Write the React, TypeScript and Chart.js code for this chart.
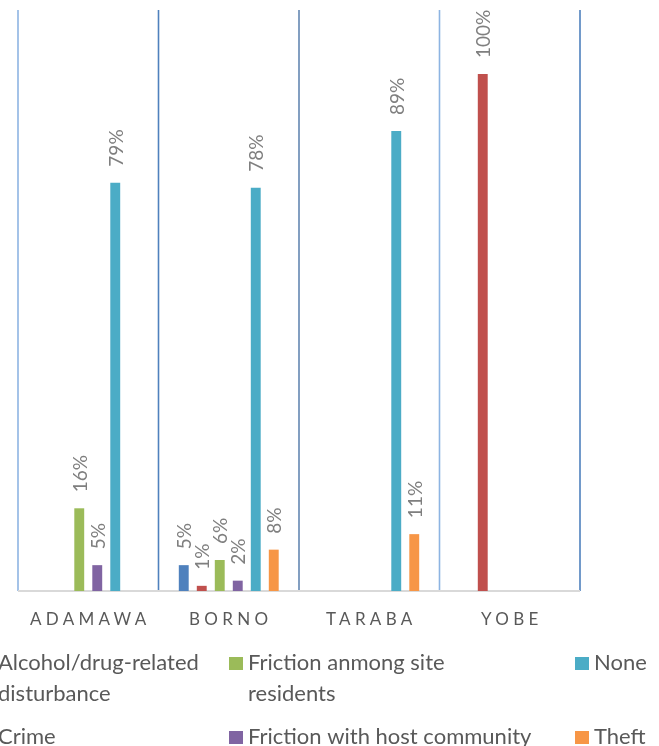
import React, { useEffect, useRef } from "react";
import { Chart, registerables } from "chart.js";

Chart.register(...registerables);

const categories = ["ADAMAWA", "BORNO", "TARABA", "YOBE"];
const seriesNames = [
  "Alcohol/drug-related disturbance",
  "Crime",
  "Friction anmong site residents",
  "Friction with host community",
  "None",
  "Theft",
];
const alcohol = [0, 5, 0, 0];
const crime = [0, 1, 0, 100];
const frictionResidents = [16, 6, 0, 0];
const frictionHost = [5, 2, 0, 0];
const none = [79, 78, 89, 0];
const theft = [0, 8, 11, 0];
const seriesColors = ["#4F81BD", "#C0504D", "#9BBB59", "#8064A2", "#4BACC6", "#F79646"];

const legendLines: string[][] = [
  ["Alcohol/drug-related", "disturbance"],
  ["Crime"],
  ["Friction anmong site", "residents"],
  ["Friction with host community"],
  ["None"],
  ["Theft"],
];

const gridColors = ["#8EB4E3", "#4F81BD", "#2F5F98", "#8DB4E2", "#4F81BD"];

const customPlugin = {
  id: "custom",
  beforeDatasetsDraw(chart: any) {
    const ctx = chart.ctx;
    const area = chart.chartArea;
    const xs = chart.scales.x;
    const n = categories.length;
    const step = (area.right - area.left) / n;
    ctx.save();
    for (let i = 0; i <= n; i++) {
      const x = i < n ? xs.getPixelForValue(i) - step / 2 : xs.getPixelForValue(n - 1) + step / 2;
      ctx.strokeStyle = gridColors[i];
      ctx.lineWidth = i === 2 ? 1.2 : 1.6;
      ctx.beginPath();
      ctx.moveTo(x, area.top);
      ctx.lineTo(x, area.bottom);
      ctx.stroke();
    }
    ctx.strokeStyle = "#D9D9D9";
    ctx.lineWidth = 2;
    ctx.beginPath();
    ctx.moveTo(area.left, area.bottom);
    ctx.lineTo(area.right, area.bottom);
    ctx.stroke();
    ctx.restore();
  },
  afterDatasetsDraw(chart: any) {
    const ctx = chart.ctx;
    ctx.save();
    ctx.font = "19px Lato";
    ctx.fillStyle = "#7F7F7F";
    ctx.textAlign = "left";
    ctx.textBaseline = "middle";
    chart.data.datasets.forEach((ds: any, di: number) => {
      const meta = chart.getDatasetMeta(di);
      meta.data.forEach((bar: any, i: number) => {
        const v = ds.data[i];
        if (!v) return;
        ctx.save();
        ctx.translate(bar.x + 1.5, bar.y - 16);
        ctx.rotate(-Math.PI / 2);
        ctx.fillText(v + "%", 0, 0);
        ctx.restore();
      });
    });
    ctx.restore();
  },
  afterDraw(chart: any) {
    const ctx = chart.ctx;
    const area = chart.chartArea;
    const xs = chart.scales.x;
    ctx.save();
    ctx.font = "17px Lato";
    (ctx as any).letterSpacing = "4.3px";
    ctx.fillStyle = "#595959";
    ctx.textAlign = "center";
    ctx.textBaseline = "middle";
    categories.forEach((c, i) => {
      ctx.fillText(c, xs.getPixelForValue(i) + 2, area.bottom + 29);
    });
    (ctx as any).letterSpacing = "0px";
    ctx.font = "22px Lato";
    ctx.textAlign = "left";
    ctx.textBaseline = "alphabetic";
    const colX = [-21, 229, 575];
    const rowY = [670, 744];
    const lineH = 31;
    seriesNames.forEach((_, si) => {
      const col = Math.floor(si / 2);
      const row = si % 2;
      const x = colX[col];
      const y = rowY[row];
      ctx.fillStyle = seriesColors[si];
      ctx.fillRect(x, y - 13, 14, 13);
      ctx.fillStyle = "#595959";
      legendLines[si].forEach((ln, li) => {
        ctx.fillText(ln, x + 19, y + li * lineH);
      });
    });
    ctx.restore();
  },
};

export default function App() {
  const ref = useRef<HTMLCanvasElement>(null);
  useEffect(() => {
    if (!ref.current) return;
    const values = [alcohol, crime, frictionResidents, frictionHost, none, theft];
    const chart = new Chart(ref.current, {
      type: "bar",
      data: {
        labels: categories,
        datasets: seriesNames.map((name, i) => ({
          label: name,
          data: values[i],
          backgroundColor: seriesColors[i],
          borderWidth: 0,
          barPercentage: 0.55,
          categoryPercentage: 0.7687,
        })),
      },
      options: {
        animation: false,
        responsive: false,
        maintainAspectRatio: false,
        layout: { padding: { left: 18, right: 79, top: 10, bottom: 155 } },
        plugins: { legend: { display: false }, tooltip: { enabled: false }, title: { display: false } },
        scales: {
          x: { display: false },
          y: { display: false, min: 0, max: 112.4 },
        },
      },
      plugins: [customPlugin],
    });
    return () => chart.destroy();
  }, []);
  return (
    <div style={{ position: "absolute", left: 0, top: 0, width: 659, height: 746, background: "#fff" }}>
      <canvas ref={ref} width={659} height={746} style={{ display: "block", width: 659, height: 746 }} />
    </div>
  );
}
